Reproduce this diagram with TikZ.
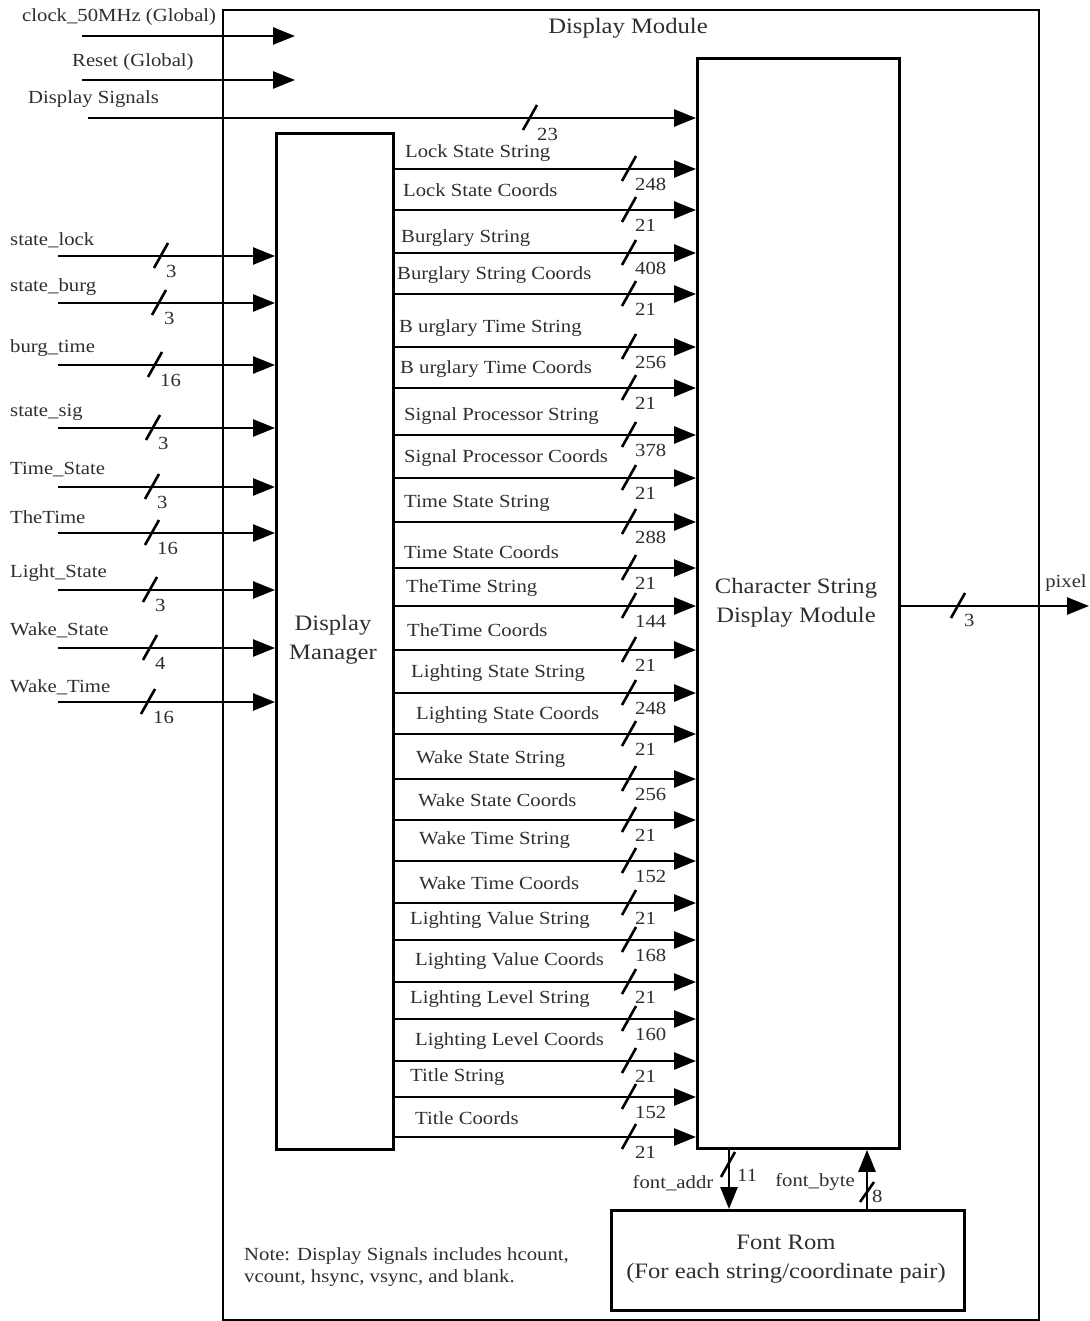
\documentclass[tikz,border=0pt]{standalone}
\usepackage{fontspec}
\setmainfont{Liberation Serif}[FakeStretch=1.12]
\usetikzlibrary{arrows.meta}
\definecolor{txt}{gray}{0.18}
\begin{document}
\begin{tikzpicture}[x=1pt,y=-1pt,
  box/.style={draw, line width=2.8pt, inner sep=0pt, anchor=north west},
  sig/.style={line width=2.6pt, -{Triangle[length=22pt,width=17pt]}},
  busmark/.style={line width=2.6pt},
  lbl/.style={inner sep=0pt, font=\fontsize{18.5}{22}\selectfont, text=txt},
  big/.style={inner sep=0pt, font=\fontsize{22}{29}\selectfont, text=txt, align=center}]
\useasboundingbox (0,0) rectangle (1089,1321);
% boxes
\node[box, line width=2.4pt, minimum width=816pt, minimum height=1310pt] (DMOD) at (222,9) {};
\node[box, minimum width=117pt, minimum height=1016pt] (DM) at (275,132) {};
\node[box, minimum width=202pt, minimum height=1090pt] (CSDM) at (696,57) {};
\node[box, minimum width=353pt, minimum height=100pt] (FR) at (610,1209) {};
% box texts
\node[big] (tDMOD) at (628,28) {Display Module};
\node[big] (tDM) at (333,640) {Display\\Manager};
\node[big] (tCSDM) at (796,603) {Character String\\Display Module};
\node[big] (tFR) at (786,1259) {Font Rom\\(For each string/coordinate pair)};
\node[lbl, anchor=west, align=left] (note) at (244,1267) {Note: Display Signals includes hcount,\\vcount, hsync, vsync, and blank.};
% global inputs
\coordinate (clk0) at (82,36);  \coordinate (clk1) at (295,36);
\coordinate (rst0) at (82,80);  \coordinate (rst1) at (295,80);
\coordinate (ds0) at (88,118);
\draw[sig] (clk0) -- (clk1);
\draw[sig] (rst0) -- (rst1);
\draw[sig] (ds0) -- (CSDM.west |- ds0);
\node[lbl, anchor=west] (lclk) at (22,17) {clock\_50MHz (Global)};
\node[lbl, anchor=west] (lrst) at (72,62) {Reset (Global)};
\node[lbl, anchor=west] (lds) at (28,99) {Display Signals};
\draw[busmark] (523,130) -- (537,105);
\node[lbl, anchor=west] (wds) at (537,134) {23};
% left inputs
\foreach \y/\nm/\ny/\sx/\w [count=\i] in {
  256/state\_lock/240/161/3,
  303/state\_burg/287/159/3,
  365/burg\_time/348/155/16,
  428/state\_sig/412/153/3,
  487/Time\_State/470/152/3,
  533/TheTime/517/152/16,
  590/Light\_State/573/150/3,
  648/Wake\_State/630/150/4,
  702/Wake\_Time/687/148/16}{
  \coordinate (li\i) at (58,\y);
  \draw[sig] (li\i) -- (DM.west |- li\i);
  \node[lbl, anchor=west] (ln\i) at (10,\ny) {\nm};
  \draw[busmark] (\sx-7,\y+12) -- (\sx+7,\y-13);
  \node[lbl, anchor=west] (lw\i) at (\sx+5,\y+15) {\w};
}
% right signals
\foreach \y/\nm/\nx/\ny/\w [count=\i] in {
  169/Lock State String/405/153/248,
  210/Lock State Coords/403/190/21,
  253/Burglary String/401/238/408,
  294/Burglary String Coords/397/275/21,
  347/B urglary Time String/399/328/256,
  388/B urglary Time Coords/400/369/21,
  435/Signal Processor String/404/416/378,
  478/Signal Processor Coords/404/458/21,
  522/Time State String/404/503/288,
  568/Time State Coords/404/552/21,
  606/TheTime String/406/588/144,
  650/TheTime Coords/407/630/21,
  693/Lighting State String/411/673/248,
  734/Lighting State Coords/416/715/21,
  779/Wake State String/416/759/256,
  820/Wake State Coords/418/800/21,
  861/Wake Time String/419/840/152,
  903/Wake Time Coords/419/883/21,
  940/Lighting Value String/410/920/168,
  982/Lighting Value Coords/415/961/21,
  1019/Lighting Level String/410/999/160,
  1061/Lighting Level Coords/415/1041/21,
  1097/Title String/410/1077/152,
  1137/Title Coords/415/1118/21}{
  \coordinate (ry\i) at (0,\y);
  \draw[sig] (DM.east |- ry\i) -- (CSDM.west |- ry\i);
  \node[lbl, anchor=west] (rn\i) at (\nx,\ny) {\nm};
  \draw[busmark] (622,\y+12) -- (636,\y-13);
  \node[lbl, anchor=west] (rw\i) at (635,\y+15) {\w};
}
% pixel output
\coordinate (px) at (1089,606);
\draw[sig] (CSDM.east |- px) -- (px);
\draw[busmark] (951,618) -- (965,593);
\node[lbl, anchor=west] (wpx) at (964,620) {3};
\node[lbl] (lpx) at (1066,583) {pixel};
% font rom links
\coordinate (fa) at (729,0);
\coordinate (fb) at (867,0);
\draw[sig] (CSDM.south -| fa) -- (FR.north -| fa);
\draw[sig] (FR.north -| fb) -- (CSDM.south -| fb);
\draw[busmark] (721,1177) -- (735,1152);
\draw[busmark] (860,1202) -- (874,1182);
\node[lbl, anchor=west] (wfa) at (737,1175) {11};
\node[lbl, anchor=west] (wfb) at (872,1196) {8};
\node[lbl] (lfa) at (673,1183) {font\_addr};
\node[lbl] (lfb) at (815,1182) {font\_byte};
\end{tikzpicture}
\end{document}
